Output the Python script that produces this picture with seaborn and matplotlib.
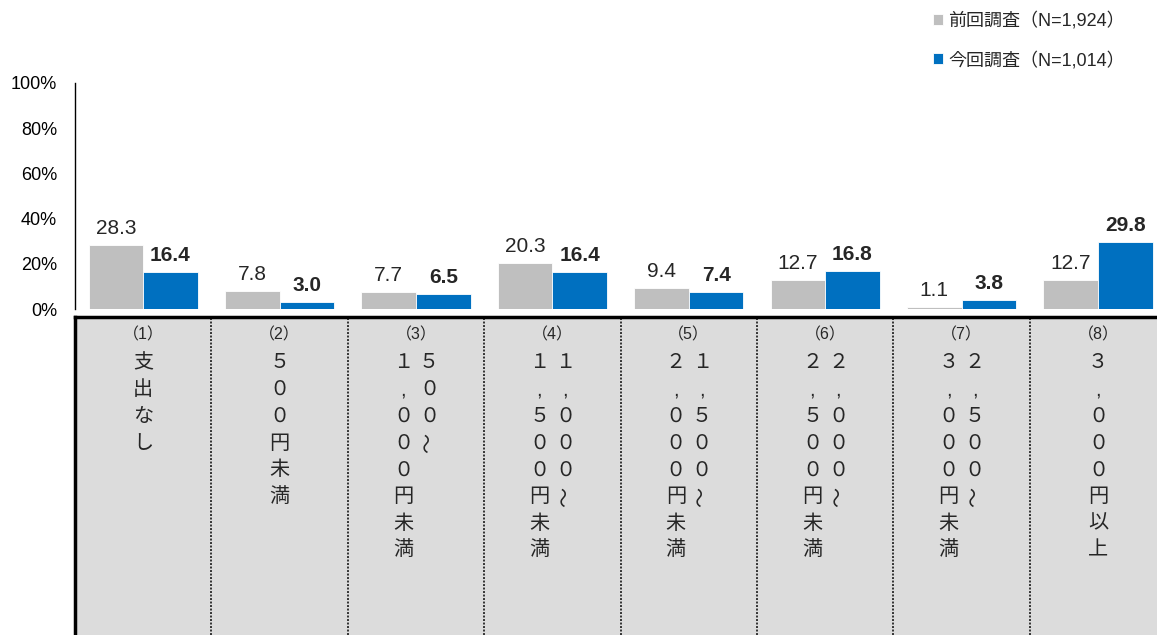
import matplotlib
matplotlib.use('Agg')
import matplotlib.pyplot as plt
import seaborn as sns
import pandas as pd

# データ
codes = ["(1)", "(2)", "(3)", "(4)", "(5)", "(6)", "(7)", "(8)"]
labels = ["支出なし", "５００円未満", "５００～１，０００円未満", "１，０００～１，５００円未満",
          "１，５００～２，０００円未満", "２，０００～２，５００円未満",
          "２，５００～３，０００円未満", "３，０００円以上"]
prev_vals = [28.3, 7.8, 7.7, 20.3, 9.4, 12.7, 1.1, 12.7]
curr_vals = [16.4, 3.0, 6.5, 16.4, 7.4, 16.8, 3.8, 29.8]
series = ["前回調査（N=1,924）", "今回調査（N=1,014）"]
yticks = [0, 20, 40, 60, 80, 100]

df = pd.DataFrame({
    "code": codes * 2,
    "value": prev_vals + curr_vals,
    "series": [series[0]] * len(codes) + [series[1]] * len(codes),
})

sns.set_style("white")
plt.rcParams['font.family'] = ['Liberation Sans', 'Noto Sans CJK JP']

W, H = 1157, 635
fig = plt.figure(figsize=(W / 100, H / 100), dpi=100)
ax = fig.add_axes([75 / W, (H - 309) / H, (W - 75) / W, (309 - 83) / H])
tab = fig.add_axes([75 / W, 0, (W - 75) / W, (H - 317) / H])

step = 136.4  # 1カテゴリの幅(px)
xmax = -0.5 + (W - 75) / step

sns.barplot(data=df, x="code", y="value", hue="series", palette=["#BFBFBF", "#0070C0"],
            width=0.8, saturation=1, edgecolor="white", linewidth=0.6, ax=ax)
ax.set_xlim(-0.5, xmax)
ax.set_ylim(0, 100)
ax.set_yticks(yticks)
ax.set_yticklabels([f"{v}%" for v in yticks])
ax.set_xticks([])
ax.set_xlabel("")
ax.set_ylabel("")
for s in ["top", "right", "bottom"]:
    ax.spines[s].set_visible(False)
ax.spines["left"].set_color("black")
ax.spines["left"].set_linewidth(1)
ax.tick_params(axis="y", direction="in", length=6, width=1, pad=13, labelsize=13, colors="black")

vals = [prev_vals, curr_vals]
for i, cont in enumerate(ax.containers):
    ax.bar_label(cont, labels=[f"{v:.1f}" for v in vals[i]], padding=5, fontsize=15,
                 fontweight="bold" if i == 1 else "normal")

sns.move_legend(ax, "upper left", bbox_to_anchor=(933 / W, 1 - 12 / H), bbox_transform=fig.transFigure,
                frameon=False, title=None, fontsize=13, handlelength=0.55, handleheight=0.55,
                handletextpad=0.3, labelspacing=1.17, borderpad=0, borderaxespad=0)

# 下の表
tab.set_facecolor("#DCDCDC")
tab.set_xlim(-0.5, xmax)
tab.set_ylim(H - 317, 0)
tab.set_xticks([])
tab.set_yticks([])
for s in ["right", "bottom"]:
    tab.spines[s].set_visible(False)
for s in ["top", "left"]:
    tab.spines[s].set_color("black")
    tab.spines[s].set_linewidth(2.5)
for k in range(1, len(codes)):
    tab.axvline(k - 0.5, color="#333333", ls=(0, (1, 0.8)), lw=1.4)

vert = {"，": ","}
off = 13 / step
for i, lab in enumerate(labels):
    tab.text(i, 18, f"（{i + 1}）", ha="center", va="center", fontsize=11.5)
    if "～" in lab:
        k = lab.index("～") + 1
        cols = [(i + off, lab[:k]), (i - off, lab[k:])]
    else:
        cols = [(i, lab)]
    for x, s in cols:
        for j, ch in enumerate(s):
            tab.text(x, 46 + j * 26.7, vert.get(ch, ch), ha="center", va="center", fontsize=14.5,
                     rotation=90 if ch == "～" else 0)

fig.savefig("out.png", dpi=100)
